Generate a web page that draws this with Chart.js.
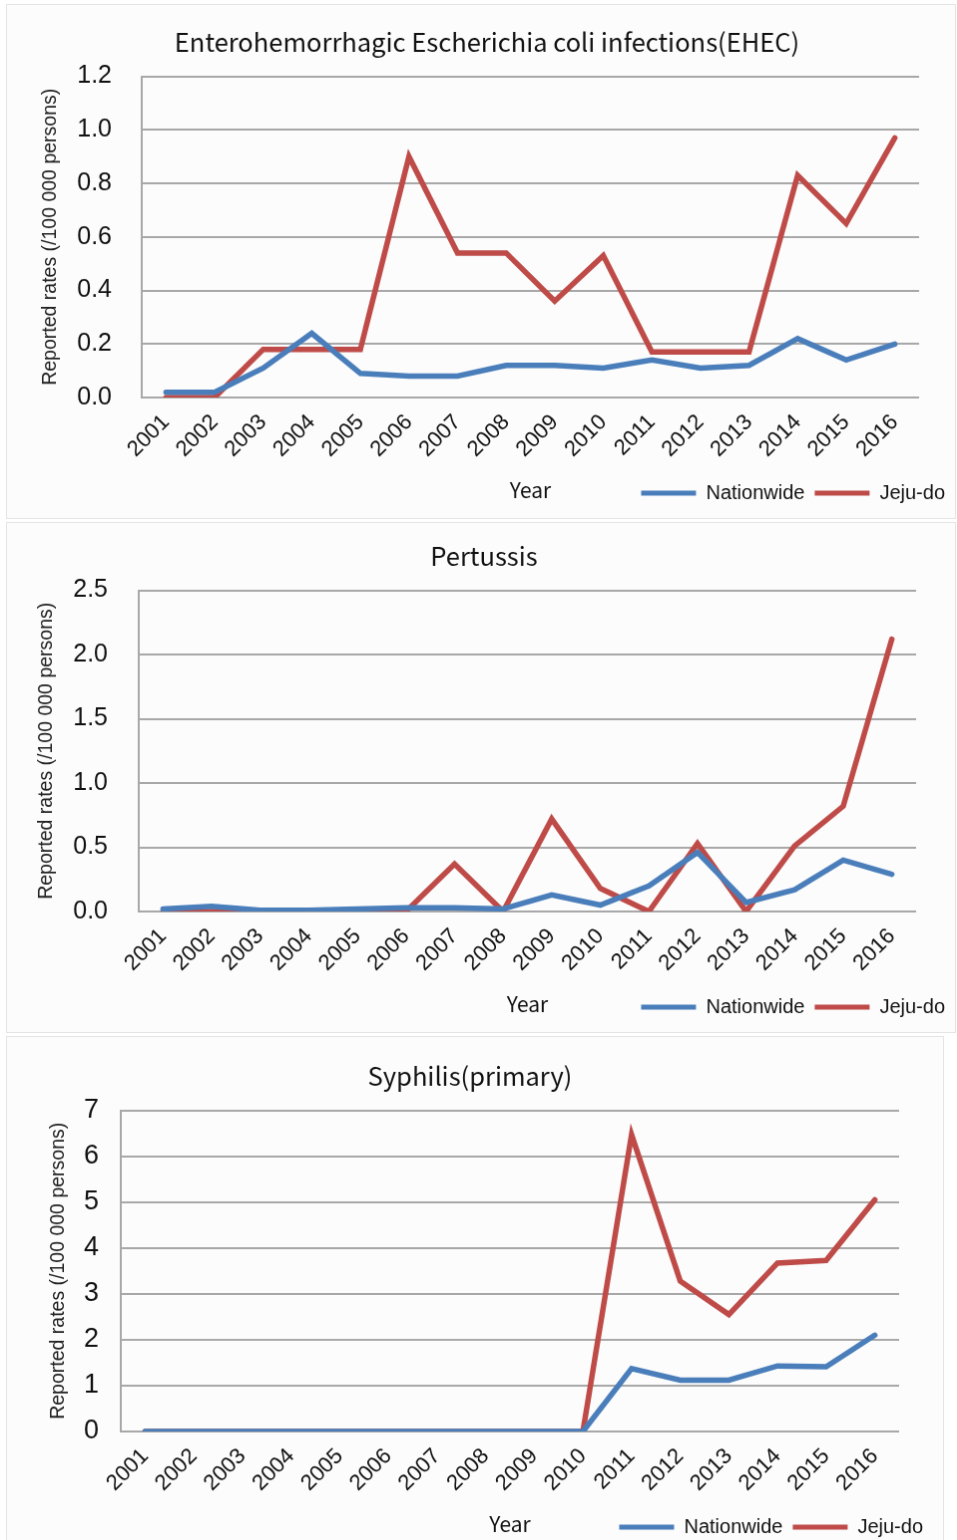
<!DOCTYPE html>
<html>
<head>
<meta charset="utf-8">
<script src="https://cdn.jsdelivr.net/npm/chart.js@4/dist/chart.umd.min.js"></script>
<style>
body { margin: 0; background: #fff; width: 957px; height: 1540px; position: relative; overflow: hidden; }
canvas { position: absolute; background: #fcfcfc; border: 1px solid #e4e4e4; }
</style>
</head>
<body>
<canvas id="ehec" width="950" height="515" style="left:6px;top:4px"></canvas>
<canvas id="pertussis" width="950" height="511" style="left:6px;top:522px"></canvas>
<canvas id="syphilis" width="938" height="512" style="left:6px;top:1036px"></canvas>
<script>
const years = ['2001', '2002', '2003', '2004', '2005', '2006', '2007', '2008',
    '2009', '2010', '2011', '2012', '2013', '2014', '2015', '2016'];
const seriesNames = ['Nationwide', 'Jeju-do'];

const ehecNationwide = [0.02, 0.02, 0.11, 0.24, 0.09, 0.08, 0.08, 0.12, 0.12, 0.11, 0.14, 0.11, 0.12, 0.22, 0.14, 0.20];
const ehecJeju = [0, 0, 0.18, 0.18, 0.18, 0.90, 0.54, 0.54, 0.36, 0.53, 0.17, 0.17, 0.17, 0.83, 0.65, 0.97];

const pertussisNationwide = [0.02, 0.04, 0.01, 0.01, 0.02, 0.03, 0.03, 0.02, 0.13, 0.05, 0.20, 0.46, 0.07, 0.17, 0.40, 0.29];
const pertussisJeju = [0, 0, 0, 0, 0, 0, 0.37, 0, 0.72, 0.18, 0, 0.53, 0, 0.51, 0.82, 2.12];

const syphilisNationwide = [0, 0, 0, 0, 0, 0, 0, 0, 0, 0, 1.37, 1.12, 1.12, 1.43, 1.41, 2.10];
const syphilisJeju = [0, 0, 0, 0, 0, 0, 0, 0, 0, 0, 6.47, 3.28, 2.55, 3.67, 3.73, 5.05];

const BLUE = '#4a7ebb';
const RED = '#be4b48';
const GRID = '#a8a8a8';
const SANS = "'Liberation Sans', Arial, sans-serif";
const TITLE_FONT = "'Noto Sans CJK KR', 'Noto Sans', sans-serif";

// "Year" sits on the same row as the legend, so it's drawn here instead of as the axis title
const yearLabel = {
    id: 'yearLabel',
    afterDraw(chart, args, opts) {
        const hb = chart.legend.legendHitBoxes[0];
        const area = chart.chartArea;
        const ctx = chart.ctx;
        ctx.save();
        ctx.font = `21px ${TITLE_FONT}`;
        ctx.fillStyle = '#111';
        ctx.textAlign = 'center';
        ctx.textBaseline = 'middle';
        ctx.fillText('Year', (area.left + area.right) / 2, hb.top + hb.height / 2 + (opts.dy || 0));
        ctx.restore();
    }
};

function makeChart(id, title, nationwide, jeju, s) {
    return new Chart(document.getElementById(id), {
        type: 'line',
        data: {
            labels: years,
            datasets: [
                { label: seriesNames[0], data: nationwide, borderColor: BLUE, backgroundColor: BLUE },
                { label: seriesNames[1], data: jeju, borderColor: RED, backgroundColor: RED }
            ]
        },
        options: {
            responsive: false,
            animation: false,
            devicePixelRatio: 1,
            elements: {
                line: { borderWidth: 5.5, tension: 0, borderJoinStyle: 'miter', borderCapStyle: 'round' },
                point: { radius: 0, hoverRadius: 0 }
            },
            layout: { padding: { left: s.padLeft, right: s.padRight, top: 0, bottom: s.padBottom } },
            plugins: {
                title: {
                    display: true,
                    text: title,
                    color: '#111',
                    font: { family: TITLE_FONT, size: 25.5, weight: 'normal' },
                    padding: { top: s.titleTop, bottom: s.titleBottom }
                },
                legend: {
                    position: 'bottom',
                    align: 'end',
                    labels: {
                        boxWidth: 55,
                        boxHeight: 5,
                        padding: 10,
                        color: '#111',
                        font: { family: SANS, size: 20 },
                        generateLabels: chart => Chart.defaults.plugins.legend.labels.generateLabels(chart)
                            .map(l => ({ ...l, lineWidth: 0, strokeStyle: 'rgba(0,0,0,0)' }))
                    }
                },
                tooltip: { enabled: false },
                yearLabel: { dy: -3 }
            },
            scales: {
                x: {
                    offset: true,
                    grid: { display: false },
                    border: { display: false },
                    ticks: {
                        autoSkip: false,
                        maxRotation: 45,
                        minRotation: 45,
                        padding: 4,
                        color: '#111',
                        font: { family: SANS, size: 22 }
                    },
                    afterFit: sc => { sc.height = s.xHeight; }
                },
                y: {
                    min: 0,
                    max: s.max,
                    grid: { color: GRID, lineWidth: 2, drawTicks: false },
                    border: { display: true, color: GRID, width: 2 },
                    ticks: {
                        stepSize: s.step,
                        padding: s.tickPad,
                        color: '#111',
                        font: { family: SANS, size: s.tickSize },
                        callback: v => v.toFixed(s.decimals)
                    },
                    title: {
                        display: true,
                        text: 'Reported rates (/100 000 persons)',
                        color: '#222',
                        font: { family: SANS, size: 19.5 },
                        padding: { top: s.yTitlePad, bottom: 0 }
                    },
                    afterFit: sc => { sc.width = s.yWidth; }
                },
                pad: {
                    position: 'right',
                    grid: { display: false },
                    border: { display: false },
                    ticks: { display: false },
                    afterFit: sc => { sc.width = s.rightGap; }
                }
            }
        },
        plugins: [yearLabel]
    });
}

makeChart('ehec', 'Enterohemorrhagic Escherichia coli infections(EHEC)', ehecNationwide, ehecJeju, {
    padLeft: 12, padRight: 0, yWidth: 123, yTitlePad: 20, rightGap: 36,
    titleTop: 22.5, titleBottom: 18.5, padBottom: 5, xHeight: 76,
    max: 1.2, step: 0.2, decimals: 1, tickSize: 25, tickPad: 30
});
makeChart('pertussis', 'Pertussis', pertussisNationwide, pertussisJeju, {
    padLeft: 6, padRight: 0, yWidth: 126, yTitlePad: 22, rightGap: 39,
    titleTop: 18.5, titleBottom: 18.5, padBottom: 5, xHeight: 76,
    max: 2.5, step: 0.5, decimals: 1, tickSize: 25, tickPad: 31
});
makeChart('syphilis', 'Syphilis(primary)', syphilisNationwide, syphilisJeju, {
    padLeft: 0, padRight: 10, yWidth: 114, yTitlePad: 40, rightGap: 34,
    titleTop: 24.5, titleBottom: 18.5, padBottom: 0, xHeight: 76,
    max: 7, step: 1, decimals: 0, tickSize: 27, tickPad: 22
});
</script>
</body>
</html>
